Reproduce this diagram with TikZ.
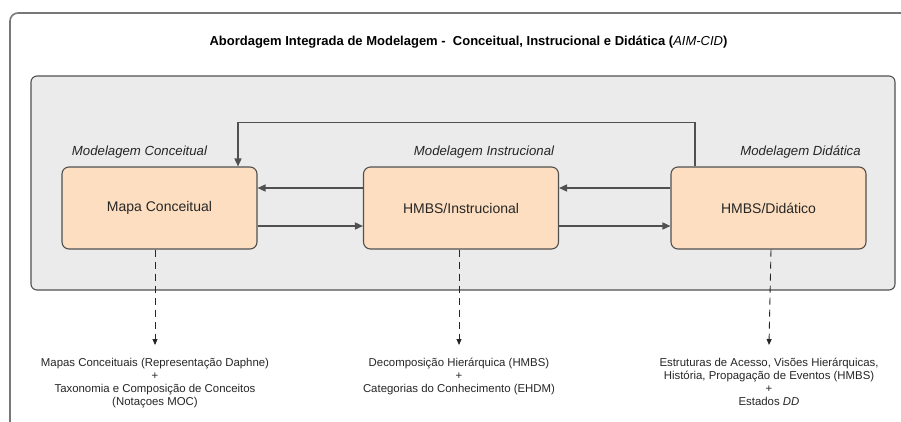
\documentclass[tikz,border=0pt]{standalone}
\usepackage{fontspec}
\setmainfont{Liberation Sans}
\usepackage{tikz}
\usetikzlibrary{arrows.meta, positioning, calc}
\definecolor{aimpeach}{HTML}{FDDEC0}
\definecolor{aimpanel}{HTML}{EBEBEB}
\definecolor{aimline}{HTML}{505050}
\definecolor{aimframe}{HTML}{787878}
\definecolor{aimtext}{HTML}{262626}

\begin{document}
\begin{tikzpicture}[x=1pt, y=-1pt,
  modelbox/.style={draw=aimline, fill=aimpeach, line width=1.1pt, rounded corners=7pt,
    minimum width=195pt, minimum height=82pt, font=\fontsize{14}{16}\selectfont, text=aimtext},
  modellabel/.style={font=\fontsize{13.2}{15}\selectfont\itshape, text=aimtext},
  flowarrow/.style={draw=aimline, line width=1.5pt, -{Triangle[length=8pt, width=7pt]}},
  notetext/.style={font=\fontsize{11.4}{13}\selectfont, text=aimtext, align=center,
    anchor=north, inner sep=0pt},
  notearrow/.style={draw=black!85, line width=0.9pt, dash pattern=on 7pt off 5pt,
    -{Triangle[length=6pt, width=5pt]}}]
\useasboundingbox (0,0) rectangle (901,421);
\fill[white] (0,0) rectangle (901,421);
% outer frame, cut at the right and bottom
\draw[aimframe, line width=1.6pt, rounded corners=8pt] (10,425) -- (10,13) -- (905,13);
\node[font=\fontsize{13}{15}\selectfont\bfseries, text=black] (title) at (468.5,42)
  {Abordagem Integrada de Modelagem -~ Conceitual, Instrucional e Didática (\textit{\mdseries AIM-CID})};
% panel
\draw[aimline, fill=aimpanel, line width=1.1pt, rounded corners=6pt] (31,76) rectangle (895,290);
\node[modellabel] (lblconc) at (139.5,152) {Modelagem Conceitual};
\node[modellabel] (lblinst) at (484,152) {Modelagem Instrucional};
\node[modellabel] (lbldida) at (800.5,152) {Modelagem Didática};
\node[modelbox] (mapa) at (159.5,208) {Mapa Conceitual};
\node[modelbox] (instr) at (461,208) {HMBS/Instrucional};
\node[modelbox] (didat) at (768.5,208) {HMBS/Didático};
\draw[flowarrow] ([yshift=20pt]instr.west) -- ([yshift=20pt]mapa.east);
\draw[flowarrow] ([yshift=20pt]didat.west) -- ([yshift=20pt]instr.east);
\draw[flowarrow] ([yshift=-18pt]mapa.east) -- ([yshift=-18pt]instr.west);
\draw[flowarrow] ([yshift=-18pt]instr.east) -- ([yshift=-18pt]didat.west);
\draw[flowarrow, rounded corners=0pt] ([xshift=-73.5pt]didat.north) -- ++(0,-44) -| ([xshift=78.5pt]mapa.north);
% what each modelling step uses
\node[notetext] (mapatxt) at (155,358)
  {Mapas Conceituais (Representação Daphne)\\+\\Taxonomia e Composição de Conceitos\\(Notaçoes MOC)};
\node[notetext] (instrtxt) at (459,358)
  {Decomposição Hierárquica (HMBS)\\+\\Categorias do Conhecimento (EHDM)};
\node[notetext] (didattxt) at (769,358)
  {Estruturas de Acesso, Visões Hierárquicas,\\História, Propagação de Eventos (HMBS)\\+\\Estados \textit{DD}};
\draw[notearrow] ([xshift=-4.5pt]mapa.south) -- ([yshift=13pt]mapatxt.north);
\draw[notearrow] ([xshift=-2pt]instr.south) -- ([yshift=13pt]instrtxt.north);
\draw[notearrow] ([xshift=2.5pt]didat.south) -- ([yshift=13pt]didattxt.north);
\end{tikzpicture}
\end{document}
